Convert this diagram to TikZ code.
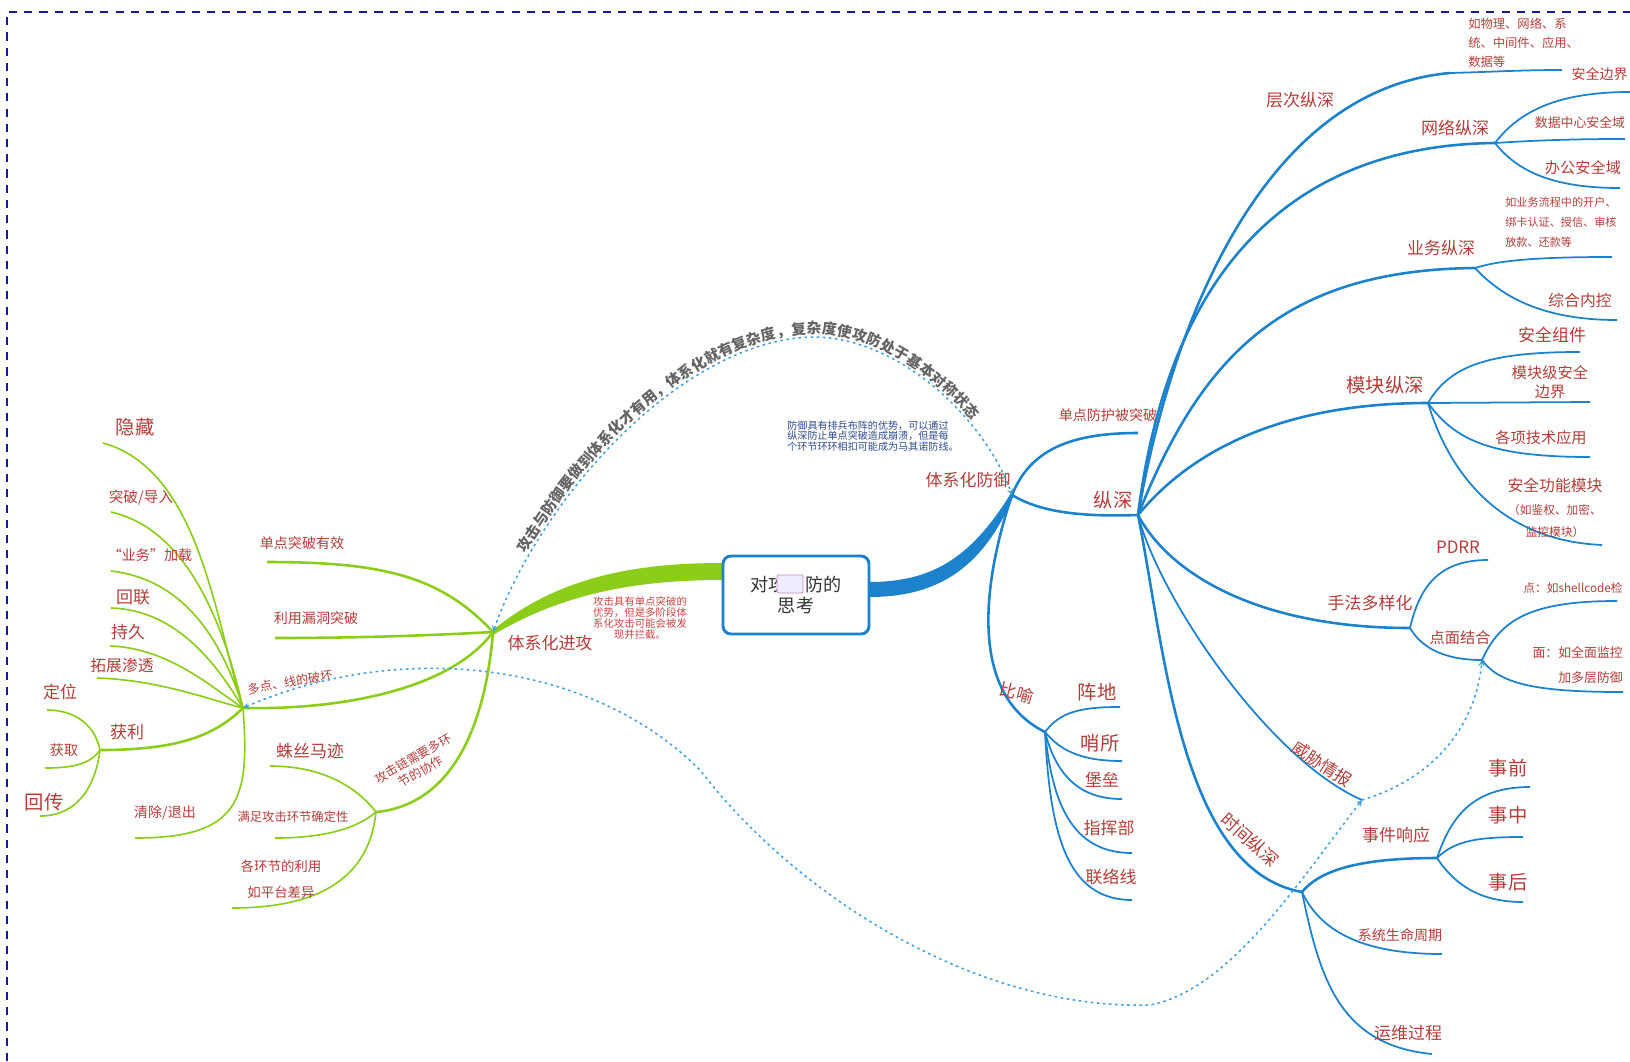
\documentclass[tikz,border=0pt]{standalone}
\usepackage{fontspec}
\setmainfont{Noto Sans CJK SC}
\usepackage{xcolor}
\usetikzlibrary{arrows,decorations.text}

\definecolor{mmblue}{RGB}{28,130,204}
\definecolor{mmgreen}{RGB}{140,205,25}
\definecolor{hwred}{RGB}{178,62,58}
\definecolor{linkblue}{RGB}{65,160,222}
\definecolor{frameblue}{RGB}{25,25,160}
\definecolor{notered}{RGB}{200,70,70}
\definecolor{noteblue}{RGB}{45,75,140}
\definecolor{arcgray}{RGB}{100,100,100}
\newcommand\arcfont{\fontsize{12.5}{14}\selectfont\bfseries\color{arcgray}}

\tikzset{
  bbr/.style={draw=mmblue, line width=2.2pt},
  blf/.style={draw=mmblue, line width=1.5pt},
  gbr/.style={draw=mmgreen, line width=2.2pt},
  glf/.style={draw=mmgreen, line width=1.4pt},
  lbl/.style={text=hwred, inner sep=0pt, font=\fontsize{14.5}{17}\selectfont},
  lbll/.style={lbl, font=\fontsize{16.5}{19}\selectfont},
  lbls/.style={lbl, font=\fontsize{12}{15}\selectfont},
  lblxs/.style={lbl, font=\fontsize{10.5}{13}\selectfont},
  link/.style={draw=linkblue, line width=1.3pt, dash pattern=on 2.2pt off 3pt, >=stealth},
  corebox/.style={draw=mmblue, line width=2.5pt, fill=white, rounded corners=0.24cm,
    minimum width=4.38cm, minimum height=2.34cm, align=center, text=black!80,
    font=\fontsize{15.5}{18.7}\selectfont}
}

\begin{document}
\begin{tikzpicture}[x=0.03cm, y=0.03cm]
  \useasboundingbox (0,0) rectangle (1630,-1061);
  \fill[white] (0,0) rectangle (1630,-1061);
  \draw[frameblue, line width=1.7pt, dash pattern=on 7pt off 6pt] (7,-1061) -- (7,-12) -- (1630,-12);

  % hubs and branch ends
  \coordinate (A) at (493,-632);
  \coordinate (B) at (243,-708);
  \coordinate (C) at (376,-812);
  \coordinate (D) at (100,-750);
  \coordinate (e-dd) at (267,-562);
  \coordinate (e-ly) at (275,-638);
  \coordinate (e-zs) at (270,-766);
  \coordinate (e-qd) at (275,-838);
  \coordinate (e-gh) at (232,-908);
  \coordinate (e-yc) at (103,-443);
  \coordinate (e-tp) at (111,-512);
  \coordinate (e-yw) at (111,-571);
  \coordinate (e-hl) at (111,-608);
  \coordinate (e-cj) at (110,-646);
  \coordinate (e-tz) at (97,-678);
  \coordinate (e-qc) at (135,-838);
  \coordinate (e-dw) at (47,-710);
  \coordinate (e-hq) at (45,-768);
  \coordinate (e-hc) at (40,-816);
  \coordinate (R) at (1012,-495);
  \coordinate (S) at (1138,-515);
  \coordinate (T) at (1045,-732);
  \coordinate (e-fh) at (1138,-433);
  \coordinate (e-zd) at (1120,-707);
  \coordinate (e-ss) at (1122,-761);
  \coordinate (e-bl) at (1122,-799);
  \coordinate (e-zhb) at (1132,-853);
  \coordinate (e-ll) at (1132,-900);
  \coordinate (L) at (1450,-73);
  \coordinate (e-cc) at (1562,-70);
  \coordinate (N) at (1495,-143);
  \coordinate (e-bj) at (1630,-92);
  \coordinate (e-sj) at (1625,-139);
  \coordinate (e-bg) at (1620,-188);
  \coordinate (Y) at (1475,-268);
  \coordinate (e-yt) at (1612,-257);
  \coordinate (e-zh) at (1617,-320);
  \coordinate (M) at (1428,-403);
  \coordinate (e-zj) at (1580,-352);
  \coordinate (e-mb) at (1590,-402);
  \coordinate (e-gx) at (1590,-457);
  \coordinate (e-gn) at (1602,-545);
  \coordinate (F) at (1410,-628);
  \coordinate (e-pd) at (1488,-560);
  \coordinate (P) at (1482,-660);
  \coordinate (e-dn) at (1617,-601);
  \coordinate (e-mn) at (1623,-692);
  \coordinate (W) at (1362,-800);
  \coordinate (Q) at (1302,-892);
  \coordinate (E) at (1437,-858);
  \coordinate (e-sq) at (1530,-787);
  \coordinate (e-sz) at (1523,-837);
  \coordinate (e-sh) at (1523,-902);
  \coordinate (e-sm) at (1442,-954);
  \coordinate (e-yw2) at (1432,-1054);

  % main bands
  \fill[mmgreen] (723,-563) .. controls (640,-563) and (560,-575) .. (493,-630)
    -- (493,-635) .. controls (565,-592) and (640,-580) .. (723,-580) -- cycle;
  \fill[mmblue] (869,-582) .. controls (930,-582) and (970,-560) .. (1011,-493)
    -- (1013,-497) .. controls (980,-575) and (930,-597) .. (869,-597) -- cycle;
  \node[corebox] (core) at (796,-595) {对攻\phantom{与}防的\\思考};
  \node[draw=violet!45, fill=blue!7, line width=0.8pt, minimum width=0.78cm, minimum height=0.54cm,
    inner sep=0pt, rounded corners=1pt] (icon) at (790,-584) {};

  % attack side
  \draw[gbr] (A) .. controls (440,-575) and (380,-562) .. (e-dd);
  \draw[gbr] (A) .. controls (420,-636) and (350,-638) .. (e-ly);
  \draw[gbr] (A) .. controls (450,-690) and (340,-710) .. (B);
  \draw[gbr] (A) .. controls (485,-730) and (450,-805) .. (C);
  \draw[glf] (C) .. controls (355,-785) and (320,-766) .. (e-zs);
  \draw[glf] (C) .. controls (355,-830) and (320,-838) .. (e-qd);
  \draw[glf] (C) .. controls (370,-870) and (330,-908) .. (e-gh);
  \draw[glf] (B) .. controls (215,-620) and (200,-470) .. (e-yc);
  \draw[glf] (B) .. controls (225,-630) and (190,-530) .. (e-tp);
  \draw[glf] (B) .. controls (225,-650) and (190,-580) .. (e-yw);
  \draw[glf] (B) .. controls (220,-670) and (180,-610) .. (e-hl);
  \draw[glf] (B) .. controls (215,-690) and (170,-648) .. (e-cj);
  \draw[glf] (B) .. controls (210,-700) and (160,-680) .. (e-tz);
  \draw[gbr] (B) .. controls (215,-735) and (180,-750) .. (D);
  \draw[glf] (B) .. controls (250,-800) and (240,-838) .. (e-qc);
  \draw[glf] (D) .. controls (95,-725) and (75,-710) .. (e-dw);
  \draw[glf] (D) .. controls (90,-765) and (70,-768) .. (e-hq);
  \draw[glf] (D) .. controls (95,-790) and (75,-816) .. (e-hc);

  \node[lbl] (atk) at (550,-643) {体系化进攻};
  \node[lbls] (dandian) at (302,-543) {单点突破有效};
  \node[lbls] (liyong) at (316,-618) {利用漏洞突破};
  \node[lblxs, rotate=10] (duodian) at (290,-682) {多点、线的破坏};
  \node[lblxs, rotate=30, align=center] (gongjilian) at (417,-765) {攻击链需要多环\\节的协作};
  \node[lbl] (zhusi) at (310,-751) {蛛丝马迹};
  \node[lblxs] (queding) at (293,-817) {满足攻击环节确定性};
  \node[lbls, align=center, font=\fontsize{11.5}{22}\selectfont] (gehuanjie) at (281,-879) {各环节的利用\\如平台差异};
  \node[lbll] (yincang) at (135,-427) {隐藏};
  \node[lbls, font=\fontsize{12.5}{15}\selectfont] (tupo) at (141,-498) {突破/导入};
  \node[lbls] (yewu) at (150,-555) {“业务”加载};
  \node[lbl] (huilian) at (133,-597) {回联};
  \node[lbl] (chijiu) at (128,-632) {持久};
  \node[lbl, font=\fontsize{13.5}{16}\selectfont] (tuozhan) at (122,-665) {拓展渗透};
  \node[lbl] (huoli) at (127,-732) {获利};
  \node[lbl] (dingwei) at (60,-692) {定位};
  \node[lbls] (huoqu) at (64,-750) {获取};
  \node[lbll] (huichuan) at (44,-802) {回传};
  \node[lbls] (qingchu) at (165,-813) {清除/退出};
  \node[text=notered, font=\fontsize{8.9}{9.6}\selectfont, align=center, inner sep=0pt] (atknote) at (640,-618)
    {攻击具有单点突破的\\优势，但是多阶段体\\系化攻击可能会被发\\现并拦截。};

  % defence side
  \draw[bbr] (R) .. controls (1030,-450) and (1070,-433) .. (e-fh);
  \draw[bbr] (R) .. controls (1040,-512) and (1080,-517) .. (S);
  \draw[bbr] (R) .. controls (990,-560) and (960,-690) .. (T);
  \draw[blf] (T) .. controls (1060,-712) and (1080,-707) .. (e-zd);
  \draw[blf] (T) .. controls (1060,-750) and (1080,-761) .. (e-ss);
  \draw[blf] (T) .. controls (1055,-770) and (1075,-799) .. (e-bl);
  \draw[blf] (T) .. controls (1052,-800) and (1070,-853) .. (e-zhb);
  \draw[blf] (T) .. controls (1050,-830) and (1065,-900) .. (e-ll);
  \draw[bbr] (S) .. controls (1170,-330) and (1260,-90) .. (L);
  \draw[blf] (L) .. controls (1490,-72) and (1520,-70) .. (e-cc);
  \draw[bbr] (S) .. controls (1170,-260) and (1300,-145) .. (N);
  \draw[blf] (N) .. controls (1520,-110) and (1560,-92) .. (e-bj);
  \draw[blf] (N) .. controls (1540,-140) and (1580,-139) .. (e-sj);
  \draw[blf] (N) .. controls (1520,-175) and (1560,-188) .. (e-bg);
  \draw[bbr] (S) .. controls (1200,-360) and (1280,-270) .. (Y);
  \draw[blf] (Y) .. controls (1500,-260) and (1540,-257) .. (e-yt);
  \draw[blf] (Y) .. controls (1500,-295) and (1540,-320) .. (e-zh);
  \draw[bbr] (S) .. controls (1200,-440) and (1300,-403) .. (M);
  \draw[blf] (M) .. controls (1450,-365) and (1490,-352) .. (e-zj);
  \draw[blf] (M) -- (e-mb);
  \draw[blf] (M) .. controls (1455,-440) and (1490,-457) .. (e-gx);
  \draw[blf] (M) .. controls (1445,-460) and (1490,-540) .. (e-gn);
  \draw[bbr] (S) .. controls (1170,-575) and (1260,-628) .. (F);
  \draw[blf] (F) .. controls (1420,-585) and (1440,-560) .. (e-pd);
  \draw[blf] (F) .. controls (1420,-645) and (1440,-660) .. (P);
  \draw[blf] (P) .. controls (1500,-620) and (1530,-601) .. (e-dn);
  \draw[blf] (P) .. controls (1500,-685) and (1540,-692) .. (e-mn);
  \draw[blf] (S) .. controls (1160,-600) and (1270,-760) .. (W);
  \draw[bbr] (S) .. controls (1165,-650) and (1180,-870) .. (Q);
  \draw[bbr] (Q) .. controls (1320,-870) and (1360,-858) .. (E);
  \draw[blf] (E) .. controls (1450,-820) and (1470,-787) .. (e-sq);
  \draw[blf] (E) .. controls (1455,-840) and (1480,-837) .. (e-sz);
  \draw[blf] (E) .. controls (1455,-885) and (1480,-902) .. (e-sh);
  \draw[blf] (Q) .. controls (1320,-930) and (1360,-954) .. (e-sm);
  \draw[blf] (Q) .. controls (1320,-980) and (1340,-1045) .. (e-yw2);

  \node[lbl] (def) at (968,-480) {体系化防御};
  \node[lbls] (dandianfh) at (1108,-415) {单点防护被突破};
  \node[lbll] (zongshen) at (1113,-500) {纵深};
  \node[lbl, rotate=-15] (biyu) at (1017,-693) {比喻};
  \node[lbll] (zhendi) at (1097,-692) {阵地};
  \node[lbll] (shaosuo) at (1100,-743) {哨所};
  \node[lbl] (baolei) at (1102,-780) {堡垒};
  \node[lbl] (zhihui) at (1109,-828) {指挥部};
  \node[lbl] (lianluo) at (1111,-877) {联络线};
  \node[lbl] (cengci) at (1300,-100) {层次纵深};
  \node[lblxs, font=\fontsize{10.5}{16}\selectfont, align=left, anchor=west] (cengci-t) at (1468,-43)
    {如物理、网络、系\\统、中间件、应用、\\数据等};
  \node[lbl] (wangluo) at (1455,-128) {网络纵深};
  \node[lbls, anchor=east] (bianjie) at (1628,-74) {安全边界};
  \node[lblxs, font=\fontsize{11}{13}\selectfont] (shuju) at (1580,-123) {数据中心安全域};
  \node[lbls, font=\fontsize{13}{15}\selectfont] (bangong) at (1583,-168) {办公安全域};
  \node[lbl] (yewuzs) at (1441,-248) {业务纵深};
  \node[lblxs, font=\fontsize{9.5}{17}\selectfont, align=left, anchor=west] (yewu-t) at (1505,-222)
    {如业务流程中的开户、\\绑卡认证、授信、审核\\放款、还款等};
  \node[lbls, font=\fontsize{13.5}{16}\selectfont] (zonghe) at (1580,-300) {综合内控};
  \node[lbll] (mokuai) at (1385,-385) {模块纵深};
  \node[lbl] (zujian) at (1552,-335) {安全组件};
  \node[lbls, font=\fontsize{13}{16}\selectfont, align=center] (mkbj) at (1550,-382) {模块级安全\\边界};
  \node[lbls, font=\fontsize{13}{15}\selectfont] (gexiang) at (1541,-438) {各项技术应用};
  \node[lbls, font=\fontsize{13.5}{19}\selectfont, align=center] (gongneng) at (1555,-508)
    {安全功能模块\\{\fontsize{10}{13}\selectfont （如鉴权、加密、}\\{\fontsize{10}{13}\selectfont 监控模块）}};
  \node[lbl] (pdrr) at (1458,-547) {PDRR};
  \node[lbl] (shoufa) at (1370,-603) {手法多样化};
  \node[lbls, font=\fontsize{13}{15}\selectfont] (dianmian) at (1460,-638) {点面结合};
  \node[lblxs, font=\fontsize{10}{12}\selectfont] (dian) at (1573,-588) {点：如shellcode检};
  \node[lblxs, font=\fontsize{11}{21}\selectfont, align=right, anchor=east] (mian) at (1623,-665)
    {面：如全面监控\\加多层防御};
  \node[lbl, rotate=-33] (weixie) at (1322,-764) {威胁情报};
  \node[lbl, font=\fontsize{15}{17}\selectfont, rotate=-42] (shijian) at (1250,-840) {时间纵深};
  \node[lbl] (xiangying) at (1396,-835) {事件响应};
  \node[lbll] (shiqian) at (1508,-768) {事前};
  \node[lbll] (shizhong) at (1508,-815) {事中};
  \node[lbll] (shihou) at (1508,-882) {事后};
  \node[lbls] (shengming) at (1400,-935) {系统生命周期};
  \node[lbl] (yunwei) at (1408,-1033) {运维过程};
  \node[text=noteblue, font=\fontsize{8.6}{9.2}\selectfont, align=left, inner sep=0pt] (defnote) at (873,-436)
    {防御具有排兵布阵的优势，可以通过\\纵深防止单点突破造成崩溃，但是每\\个环节环环相扣可能成为马其诺防线。};

  % cross links
  \draw[link,<->] (A) .. controls (540,-500) and (680,-340) .. (813,-337)
    .. controls (900,-337) and (985,-420) .. (R);
  \path[decorate, decoration={text along path, text align=center, raise=3pt,
    text={|\arcfont|攻击与防御要做到体系化才有用，体系化就有复杂度，复杂度使攻防处于基本对称状态}}]
    (A) .. controls (540,-500) and (680,-340) .. (813,-337)
    .. controls (900,-337) and (985,-420) .. (R);
  \draw[link,<->] (B) .. controls (400,-640) and (590,-660) .. (700,-770)
    .. controls (800,-900) and (980,-1010) .. (1150,-1005)
    .. controls (1230,-990) and (1300,-880) .. (W);
  \draw[link,->] (W) .. controls (1430,-780) and (1475,-730) .. (P);
\end{tikzpicture}
\end{document}
